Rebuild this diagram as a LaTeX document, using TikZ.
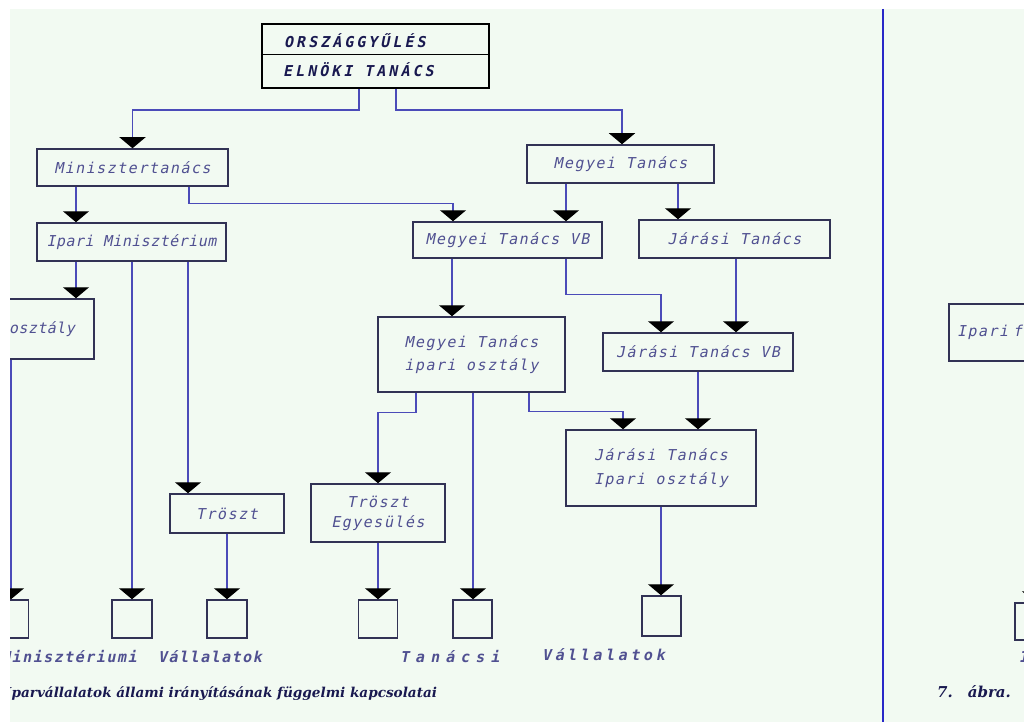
\documentclass[tikz,border=0pt]{standalone}
\usepackage{fontspec}
\usetikzlibrary{arrows.meta}
\newfontfamily\labA[FakeSlant=0.2,LetterSpace=10]{DejaVu Sans Mono}
\newfontfamily\labN[FakeSlant=0.2,LetterSpace=3]{DejaVu Sans Mono}
\newfontfamily\labW[FakeSlant=0.2,LetterSpace=24]{DejaVu Sans Mono}
\newfontfamily\labX[FakeSlant=0.2,LetterSpace=40]{DejaVu Sans Mono}
\newfontfamily\labT[FakeSlant=0.2,LetterSpace=20]{DejaVu Sans Mono}
\newfontfamily\capf{DejaVu Serif}
\definecolor{bg}{RGB}{242,250,242}
\definecolor{boxc}{RGB}{50,50,85}
\definecolor{linec}{RGB}{75,75,185}
\definecolor{txtc}{RGB}{80,80,145}
\definecolor{capc}{RGB}{25,25,80}
\definecolor{divc}{RGB}{40,40,200}
\begin{document}
\begin{tikzpicture}[x=1pt,y=-1pt,
  box/.style={draw=boxc, line width=1.5pt, inner sep=0pt, text=txtc,
              font=\labA\fontsize{15}{18}\selectfont},
  sqbox/.style={draw=boxc, line width=1.5pt, minimum width=40pt, minimum height=38pt, inner sep=0pt},
  conn/.style={draw=linec, line width=1.2pt, -{Triangle[width=26pt,length=11pt,color=black]}},
  toptxt/.style={inner sep=0pt, text=capc, font=\labT\bfseries\fontsize{15}{18}\selectfont},
  lowlbl/.style={inner sep=0pt, text=txtc, anchor=base west},
  captxt/.style={inner sep=0pt, text=capc, anchor=base west, font=\capf\bfseries\itshape\fontsize{13.6}{16}\selectfont}]
\useasboundingbox (0,0) rectangle (1024,722);
\fill[white] (0,0) rectangle (1024,722);
\fill[bg] (10,9) rectangle (1024,722);
\begin{scope}
\clip (10,9) rectangle (1024,722);
% divider
\draw[divc, line width=2.2pt] (883,9) -- (883,722);
% top box
\node[draw=black, line width=2.2pt, minimum width=227pt, minimum height=64pt, inner sep=0pt] (orsz) at (375.5,56) {};
\draw[black, line width=1.6pt] ([yshift=1.5pt]orsz.west) -- ([yshift=1.5pt]orsz.east);
\node[toptxt, anchor=base west] (orszA) at (284,48) {ORSZÁGGYŰLÉS};
\node[toptxt, anchor=base west] (orszB) at (283,77) {ELNÖKI TANÁCS};
% boxes
\node[box, minimum width=191pt, minimum height=37pt] (mt) at (132.5,167.5) {Minisztertanács};
\node[box, minimum width=189pt, minimum height=38pt, font=\labN\fontsize{15}{18}\selectfont] (im) at (131.5,242) {Ipari Minisztérium};
\node[box, minimum width=187pt, minimum height=38pt] (mtan) at (620.5,164) {Megyei Tanács};
\node[box, minimum width=189pt, minimum height=36pt] (mvb) at (507.5,240) {Megyei Tanács VB};
\node[box, minimum width=191pt, minimum height=38pt] (jt) at (734.5,239) {Járási Tanács};
\node[box, minimum width=190pt, minimum height=60pt, text width=152pt, align=right, font=\labN\fontsize{15}{18}\selectfont] (oszt) at (-1,329) {osztály};
\node[box, minimum width=114pt, minimum height=39pt] (tr) at (227,513.5) {Tröszt};
\node[box, minimum width=187pt, minimum height=75pt, align=center, font=\labA\fontsize{15}{23}\selectfont] (mio) at (471.5,354.5) {Megyei Tanács\\ipari osztály};
\node[box, minimum width=134pt, minimum height=58pt, align=center, font=\labA\fontsize{15}{20}\selectfont] (te) at (378,513) {Tröszt\\Egyesülés};
\node[box, minimum width=190pt, minimum height=38pt] (jvb) at (698,352) {Járási Tanács VB};
\node[box, minimum width=190pt, minimum height=76pt, align=left, font=\labA\fontsize{15}{24}\selectfont] (jio) at (661,468) {Járási Tanács\\Ipari osztály};
\node[box, minimum width=190pt, minimum height=57pt, text width=174pt, align=left] (rbox) at (1044,332.5) {Ipari f};
% squares
\node[sqbox, minimum width=38pt] (lsq) at (9.5,619) {};
\node[sqbox] (msq) at (132,619) {};
\node[sqbox] (tvsq) at (227,619) {};
\node[sqbox, minimum width=39pt] (tsq1) at (378,619) {};
\node[sqbox, minimum width=39pt] (tsq2) at (472.5,619) {};
\node[sqbox, minimum width=39pt, minimum height=40pt] (jsq) at (661.5,616) {};
\node[sqbox, minimum height=37pt] (rsq) at (1035,621.5) {};
% connectors
\draw[conn] ([xshift=-16.5pt]orsz.south) -- ++(0,21) -| (mt.north);
\draw[conn] ([xshift=20.5pt]orsz.south) -- ++(0,21) -| ([xshift=1.5pt]mtan.north);
\draw[conn] ([xshift=-56.5pt]mt.south) -- ([xshift=-55.5pt]im.north);
\draw[conn] ([xshift=56.5pt]mt.south) -- ++(0,17) -| ([xshift=-54.5pt]mvb.north);
\draw[conn] ([xshift=-54.5pt]mtan.south) -- ([xshift=58.5pt]mvb.north);
\draw[conn] ([xshift=57.5pt]mtan.south) -- ([xshift=-56.5pt]jt.north);
\draw[conn] ([xshift=-55.5pt]im.south) -- ([xshift=77pt]oszt.north);
\draw[conn] ([xshift=0.5pt]im.south) -- (msq.north);
\draw[conn] ([xshift=56.5pt]im.south) -- ([xshift=-39pt]tr.north);
\draw[conn] (tr.south) -- (tvsq.north);
\draw[conn] ([xshift=12pt]oszt.south) -- ([xshift=1.5pt]lsq.north);
\draw[conn] ([xshift=-55.5pt]mvb.south) -- ([xshift=-19.5pt]mio.north);
\draw[conn] ([xshift=58.5pt]mvb.south) -- ++(0,36) -| ([xshift=-37pt]jvb.north);
\draw[conn] ([xshift=1.5pt]jt.south) -- ([xshift=38pt]jvb.north);
\draw[conn] ([xshift=-55.5pt]mio.south) -- ++(0,20) -| (te.north);
\draw[conn] ([xshift=1.5pt]mio.south) -- ([xshift=0.5pt]tsq2.north);
\draw[conn] ([xshift=57.5pt]mio.south) -- ++(0,19) -| ([xshift=-38pt]jio.north);
\draw[conn] (jvb.south) -- ([xshift=37pt]jio.north);
\draw[conn] (te.south) -- (tsq1.north);
\draw[conn] (jio.south) -- ([xshift=-0.5pt]jsq.north);
\draw[conn] ([xshift=-9pt]rbox.south) -- (rsq.north);
% bottom labels
\node[lowlbl, font=\labA\bfseries\fontsize{15}{18}\selectfont] (lblA) at (1,662) {Minisztériumi};
\node[lowlbl, font=\labA\bfseries\fontsize{15}{18}\selectfont] (lblB) at (158,662) {Vállalatok};
\node[lowlbl, font=\labX\bfseries\fontsize{15}{18}\selectfont] (lblC) at (400,662) {Tanácsi};
\node[lowlbl, font=\labW\bfseries\fontsize{15}{18}\selectfont] (lblD) at (542,660) {Vállalatok};
\node[lowlbl, font=\labA\bfseries\fontsize{15}{18}\selectfont] (lblE) at (1019,662) {I};
% captions
\node[captxt] (capA) at (5,697) {Iparvállalatok állami irányításának függelmi kapcsolatai};
\node[captxt, font=\capf\bfseries\itshape\fontsize{15}{17}\selectfont] (capB) at (937,697) {7.\hspace{15pt}ábra.};
\end{scope}
\end{tikzpicture}
\end{document}
